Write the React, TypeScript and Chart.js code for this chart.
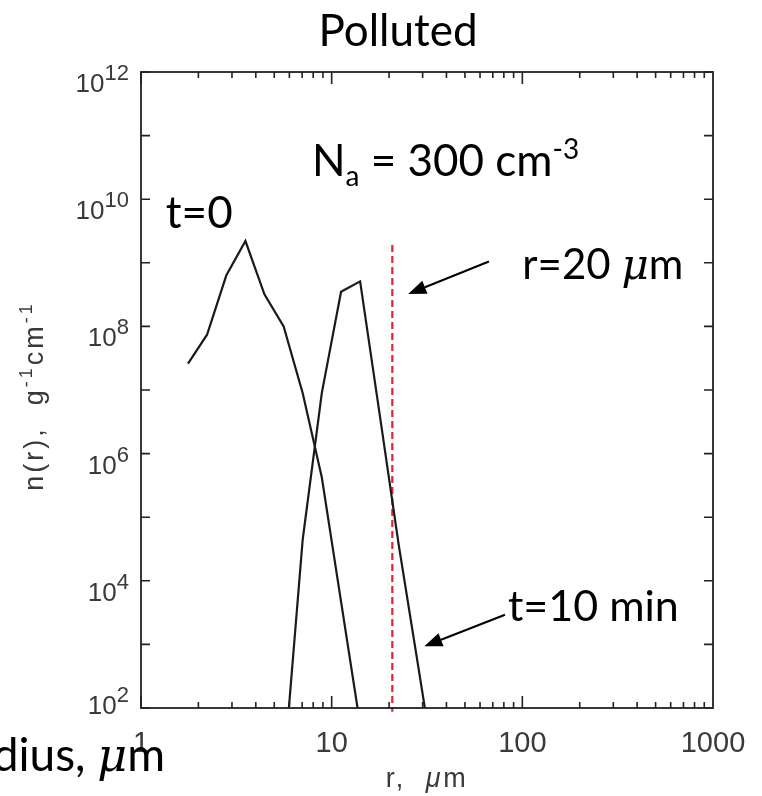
import React, { useEffect, useRef } from 'react';
import { Chart, registerables } from 'chart.js';

Chart.register(...registerables);

// ---- data ----
const radiusBins = [1.764, 2.22, 2.8, 3.53, 4.44, 5.6, 7.05, 8.88, 11.2, 14.1, 17.8, 22.4, 28.2, 35.5];
const nAtStart: (number | null)[] = [2.6e7, 7.4e7, 6.3e8, 2.2e9, 3.2e8, 1.0e8, 8.9e6, 4.2e5, 4.7e3, 55, null, null, null, null];
const nAfter10Min: (number | null)[] = [null, null, null, null, null, 10, 4.5e4, 9e6, 3.5e8, 5.1e8, 4.4e6, 3.9e4, 530, 7];
const cutoffRadius = 20.8;
const cutoffSpan = [1.9e9, 87];
const xMajorTicks = [1, 10, 100, 1000];
const xTickLabels = ['1', '10', '100', '1000'];
const yLabelExponents = [2, 4, 6, 8, 10, 12];
const yTickExponents = [2, 3, 4, 5, 6, 7, 8, 9, 10, 11, 12];

const LAB = '"Liberation Sans", Arial, sans-serif';
const CAL = 'Lato, "Noto Sans", sans-serif';

type Run = { t: string; font: string; dy?: number };

function drawRuns(ctx: CanvasRenderingContext2D, runs: Run[], x: number, y: number, align: 'left' | 'center' | 'right') {
  let w = 0;
  for (const r of runs) {
    ctx.font = r.font;
    w += ctx.measureText(r.t).width;
  }
  let cx = align === 'right' ? x - w : align === 'center' ? x - w / 2 : x;
  ctx.textAlign = 'left';
  ctx.textBaseline = 'alphabetic';
  for (const r of runs) {
    ctx.font = r.font;
    ctx.fillText(r.t, cx, y + (r.dy || 0));
    cx += ctx.measureText(r.t).width;
  }
}

function arrow(ctx: CanvasRenderingContext2D, x1: number, y1: number, x2: number, y2: number) {
  const ang = Math.atan2(y2 - y1, x2 - x1);
  const hl = 18;
  const hw = 7;
  const bx = x2 - hl * Math.cos(ang);
  const by = y2 - hl * Math.sin(ang);
  ctx.beginPath();
  ctx.moveTo(x1, y1);
  ctx.lineTo(bx, by);
  ctx.strokeStyle = '#000';
  ctx.lineWidth = 2;
  ctx.stroke();
  ctx.beginPath();
  ctx.moveTo(x2, y2);
  ctx.lineTo(bx + hw * Math.sin(ang), by - hw * Math.cos(ang));
  ctx.lineTo(bx - hw * Math.sin(ang), by + hw * Math.cos(ang));
  ctx.closePath();
  ctx.fillStyle = '#000';
  ctx.fill();
}

const framePlugin = {
  id: 'frame',
  afterDraw(chart: any) {
    const { ctx, chartArea: a, scales } = chart;
    const xs = scales.x;
    const ys = scales.y;
    const X = (v: number) => xs.getPixelForValue(v);
    const Y = (v: number) => ys.getPixelForValue(v);
    ctx.save();

    // frame
    ctx.strokeStyle = '#222';
    ctx.lineWidth = 1.8;
    ctx.strokeRect(a.left, a.top, a.right - a.left, a.bottom - a.top);

    // x ticks (inward, top and bottom)
    ctx.lineWidth = 1.6;
    for (const d of [1, 10, 100]) {
      for (let m = 1; m <= 9; m++) {
        const px = X(d * m);
        const len = m === 1 ? 12 : 6;
        ctx.beginPath();
        ctx.moveTo(px, a.bottom);
        ctx.lineTo(px, a.bottom - len);
        ctx.moveTo(px, a.top);
        ctx.lineTo(px, a.top + len);
        ctx.stroke();
      }
    }
    // y ticks
    for (const e of yTickExponents) {
      const py = Y(Math.pow(10, e));
      ctx.beginPath();
      ctx.moveTo(a.left, py);
      ctx.lineTo(a.left + 9, py);
      ctx.moveTo(a.right, py);
      ctx.lineTo(a.right - 9, py);
      ctx.stroke();
    }

    // tick labels
    ctx.fillStyle = '#3a3a3a';
    xMajorTicks.forEach((v, i) => {
      drawRuns(ctx, [{ t: xTickLabels[i], font: `29px ${LAB}` }], X(v), a.bottom + 44, 'center');
    });
    for (const e of yLabelExponents) {
      const py = Y(Math.pow(10, e));
      const base = e === 2 ? py + 6 : py + 20;
      drawRuns(
        ctx,
        [
          { t: '10', font: `26px ${LAB}` },
          { t: String(e), font: `22px ${LAB}`, dy: -12 },
        ],
        a.left - 12,
        base,
        'right'
      );
    }

    // axis titles
    (ctx as any).letterSpacing = '2.5px';
    drawRuns(
      ctx,
      [
        { t: 'r,  ', font: `27px ${LAB}` },
        { t: 'μ', font: `italic 27px ${LAB}` },
        { t: 'm', font: `27px ${LAB}` },
      ],
      (a.left + a.right) / 2,
      a.bottom + 79,
      'center'
    );
    ctx.save();
    ctx.translate(43, 396);
    ctx.rotate(-Math.PI / 2);
    (ctx as any).letterSpacing = '3px';
    drawRuns(
      ctx,
      [
        { t: 'n(r),  g', font: `27px ${LAB}` },
        { t: '-1', font: `18px ${LAB}`, dy: -11 },
        { t: 'cm', font: `27px ${LAB}` },
        { t: '-1', font: `18px ${LAB}`, dy: -11 },
      ],
      0,
      0,
      'center'
    );
    ctx.restore();
    (ctx as any).letterSpacing = '0px';

    // title and annotations
    ctx.fillStyle = '#000';
    drawRuns(ctx, [{ t: 'Polluted', font: `44px ${CAL}` }], 398, 46, 'center');
    drawRuns(
      ctx,
      [
        { t: 'N', font: `44px ${CAL}` },
        { t: 'a', font: `28px ${CAL}`, dy: 10 },
        { t: ' = 300 cm', font: `44px ${CAL}` },
        { t: '-3', font: `28px ${CAL}`, dy: -17 },
      ],
      X(7.88),
      Y(2.3e10),
      'left'
    );
    drawRuns(ctx, [{ t: 't=0', font: `44px ${CAL}` }], X(1.35), Y(3.55e9), 'left');
    drawRuns(
      ctx,
      [
        { t: 'r=20 ', font: `42px ${CAL}` },
        { t: 'μ', font: `italic 42px "DejaVu Serif", serif` },
        { t: 'm', font: `42px ${CAL}` },
      ],
      X(100),
      Y(5.6e8),
      'left'
    );
    drawRuns(ctx, [{ t: 't=10 min', font: `43px ${CAL}` }], X(84), Y(2.36e3), 'left');
    drawRuns(
      ctx,
      [
        { t: 'Radius, ', font: `46px ${CAL}` },
        { t: 'μ', font: `italic 46px "DejaVu Serif", serif` },
        { t: 'm', font: `46px ${CAL}` },
      ],
      165,
      771,
      'right'
    );

    arrow(ctx, X(66.8), Y(1.05e9), X(25.2), Y(3.24e8));
    arrow(ctx, X(81.1), Y(2.93e3), X(30.6), Y(931));

    ctx.restore();
  },
};

function toPoints(values: (number | null)[]) {
  const pts: { x: number; y: number }[] = [];
  values.forEach((v, i) => {
    if (v !== null) pts.push({ x: radiusBins[i], y: v });
  });
  return pts;
}

export default function App() {
  const ref = useRef<HTMLCanvasElement | null>(null);
  useEffect(() => {
    if (!ref.current) return;
    const chart = new Chart(ref.current, {
      type: 'scatter',
      data: {
        datasets: [
          {
            label: 't=0',
            data: toPoints(nAtStart),
            showLine: true,
            borderColor: '#1a1a1a',
            borderWidth: 2.2,
            pointRadius: 0,
            tension: 0,
          },
          {
            label: 't=10 min',
            data: toPoints(nAfter10Min),
            showLine: true,
            borderColor: '#1a1a1a',
            borderWidth: 2.2,
            pointRadius: 0,
            tension: 0,
          },
          {
            label: 'r=20 μm',
            data: cutoffSpan.map((n) => ({ x: cutoffRadius, y: n })),
            showLine: true,
            borderColor: '#e8232b',
            borderWidth: 2.2,
            borderDash: [7, 4],
            pointRadius: 0,
            clip: 6,
          } as any,
        ],
      },
      options: {
        responsive: false,
        animation: false,
        layout: { padding: { left: 141, top: 72, right: 49, bottom: 88 } },
        plugins: { legend: { display: false }, tooltip: { enabled: false } },
        scales: {
          x: { type: 'logarithmic', min: 1, max: 1000, display: false },
          y: { type: 'logarithmic', min: 100, max: 1e12, display: false },
        },
      },
      plugins: [framePlugin],
    });
    return () => chart.destroy();
  }, []);
  return (
    <div style={{ position: 'fixed', left: 0, top: 0, width: 762, height: 796, background: '#fff' }}>
      <canvas ref={ref} width={762} height={796} style={{ display: 'block' }} />
    </div>
  );
}
